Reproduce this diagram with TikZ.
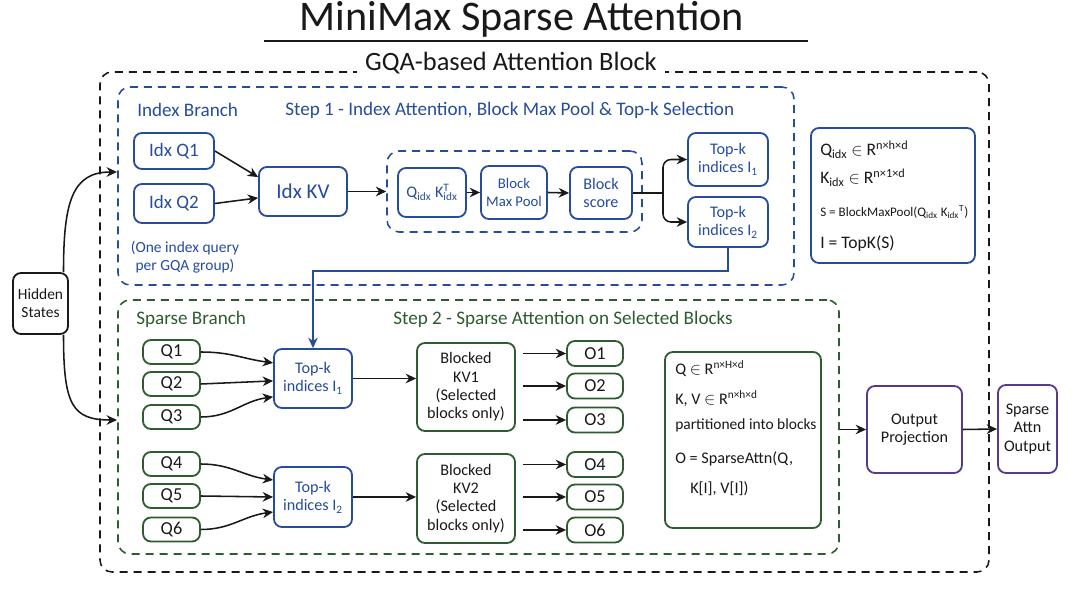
\documentclass[tikz,border=0pt]{standalone}
\usepackage{fontspec}
\setmainfont{Carlito}
\usetikzlibrary{arrows.meta}
\definecolor{idxblue}{RGB}{38,76,158}
\definecolor{spgreen}{RGB}{44,92,48}
\definecolor{outpurple}{RGB}{88,58,138}
\definecolor{ink}{RGB}{25,25,25}
\tikzset{
  sz/.style 2 args={minimum width=#1mm, minimum height=#2mm},
  box/.style={draw, rounded corners=2mm, line width=1.3pt, fill=white, align=center, inner sep=1pt, font=\fontsize{11.5}{13}\selectfont},
  bigtxt/.style={font=\fontsize{13.5}{15}\selectfont},
  bluebox/.style={box, draw=idxblue, text=idxblue},
  greenbox/.style={box, draw=spgreen, text=ink},
  purplebox/.style={box, draw=outpurple, text=ink},
  dashframe/.style={draw, dash pattern=on 2mm off 1.5mm, line width=1.1pt, rounded corners=3mm, inner sep=0pt},
  arr/.style={-{Stealth[length=2.6mm,width=2.4mm]}, line width=1.1pt, draw=ink},
  lbl/.style={anchor=west, inner sep=0pt, font=\fontsize{13.6}{15}\selectfont},
  ftxt/.style={anchor=west, inner sep=0pt, text=ink, font=\fontsize{12.5}{14}\selectfont},
}
\begin{document}
\begin{tikzpicture}[x=0.25mm, y=-0.25mm]
	\fill[white] (0,0) rectangle (1080,595);
	\useasboundingbox (0,0) rectangle (1080,595);
	% title
	\node[inner sep=0pt, text=ink, font=\fontsize{30}{32}\selectfont] (title) at (522,19) {MiniMax Sparse Attention};
	\draw[ink, line width=1.6pt] (264,41) -- (808,41);
	% frames
	\node[dashframe, draw=ink, sz={222.25}{125}] (outer) at (544.5,322) {};
	\node[fill=white, inner sep=6pt, text=ink, font=\fontsize{18.8}{20}\selectfont] (gqa) at (511,63) {GQA-based Attention Block};
	\node[dashframe, draw=idxblue, sz={169}{49.5}] (idxframe) at (456,186) {};
	\node[dashframe, draw=spgreen, sz={180.25}{63.5}] (sparse) at (478.5,427) {};
	\node[lbl, text=idxblue] (idxlbl) at (137,110) {Index Branch};
	\node[lbl, text=idxblue] (steplbla) at (285,110) {Step 1 - Index Attention, Block Max Pool \& Top-k Selection};
	\node[lbl, text=spgreen] (splbl) at (136,319) {Sparse Branch};
	\node[lbl, text=spgreen] (steplblb) at (393,319) {Step 2 - Sparse Attention on Selected Blocks};
	% index branch
	\node[bluebox, bigtxt, sz={20}{9}] (idxqa) at (174,151) {Idx Q1};
	\node[bluebox, bigtxt, sz={20}{9.75}] (idxqb) at (174,203.5) {Idx Q2};
	\node[align=center, inner sep=0pt, text=idxblue, font=\fontsize{11}{13}\selectfont] (note) at (185,257) {(One index query\\per GQA group)};
	\node[bluebox, sz={22}{12.25}, font=\fontsize{15}{17}\selectfont] (idxkv) at (303,191.5) {Idx KV};
	\node[dashframe, draw=idxblue, sz={63.75}{20.25}] (inner) at (514.5,191.5) {};
	\node[bluebox, sz={17}{12.25}] (qk) at (432,192.5) {Q\textsubscript{idx} K\rlap{\textsuperscript{T}}\textsubscript{idx}};
	\node[bluebox, sz={16.5}{13.25}, font=\fontsize{10.5}{12.5}\selectfont] (bmp) at (514,192.5) {Block\\Max Pool};
	\node[bluebox, sz={15.5}{13}] (bscore) at (601,193) {Block\\score};
	\node[bluebox, sz={20}{13.25}] (topa) at (728,159.5) {Top-k\\indices I\textsubscript{1}};
	\node[bluebox, sz={20}{12.5}] (topb) at (728,222) {Top-k\\indices I\textsubscript{2}};
	\coordinate (split) at (663,193);
	\draw[arr] (idxqa.east) -- ([yshift=3.6mm]idxkv.west);
	\draw[arr] (idxqb.east) -- ([yshift=-1.6mm]idxkv.west);
	\draw[arr] (idxkv.east) -- (inner.west);
	\draw[arr] (qk.east) -- (bmp.west);
	\draw[arr] (bmp.east) -- (bscore.west);
	\draw[ink, line width=1.1pt] (bscore.east) -- (split);
	\draw[arr, rounded corners=2mm] (split) |- (topa.west);
	\draw[arr, rounded corners=2mm] (split) |- (topb.west);
	% formulas (index)
	\node[box, draw=idxblue, sz={41}{33.75}] (fidx) at (893,195.5) {};
	\node[ftxt] (fq) at (820,150) {Q\textsubscript{idx} $\in$ R\textsuperscript{n×h×d}};
	\node[ftxt] (fk) at (820,178) {K\textsubscript{idx} $\in$ R\textsuperscript{n×1×d}};
	\node[ftxt, font=\fontsize{9.3}{11}\selectfont] (fs) at (820,212) {S = BlockMaxPool(Q\textsubscript{idx} K\textsubscript{idx}\textsuperscript{T})};
	\node[ftxt] (fi) at (820,243) {I = TopK(S)};
	% hidden states
	\node[box, draw=ink, text=ink, sz={13.75}{15.25}, font=\fontsize{11}{13}\selectfont] (hidden) at (40.5,303.5) {Hidden\\States};
	\coordinate (hidtop) at (117,172);
	\coordinate (hidbot) at (117,420);
	\draw[arr] ([xshift=5.75mm]hidden.north) .. controls +(0,-70) and +(-45,0) .. (hidtop);
	\draw[arr] ([xshift=5.75mm]hidden.south) .. controls +(0,70) and +(-45,0) .. (hidbot);
	% sparse branch
	\foreach \n/\y in {1/352,2/384,3/417,4/464,5/496,6/529.5}
		\node[greenbox, sz={14.25}{6}, font=\fontsize{13}{15}\selectfont] (q\n) at (171.5,\y) {Q\n};
	\node[bluebox, sz={19.5}{14.75}] (stopa) at (313,378.5) {Top-k\\indices I\textsubscript{1}};
	\node[bluebox, sz={19.5}{15}] (stopb) at (313,497) {Top-k\\indices I\textsubscript{2}};
	\node[greenbox, sz={24.5}{22}] (kva) at (466,387) {Blocked\\KV1\\(Selected\\blocks only)};
	\node[greenbox, sz={24.5}{22.25}] (kvb) at (466,498.5) {Blocked\\KV2\\(Selected\\blocks only)};
	\foreach \n/\y in {1/353.5,2/386,3/420,4/464.5,5/497,6/530}
		\node[greenbox, sz={14}{6.25}, font=\fontsize{13}{15}\selectfont] (o\n) at (595,\y) {O\n};
	\coordinate (route) at (313,271);
	\draw[arr, draw=idxblue] (topb.south) |- (route) -- (stopa.north);
	\draw[arr] (q1.east) .. controls +(30,0) and +(-30,-4) .. ([yshift=3.9mm]stopa.west);
	\draw[arr] (q2.east) -- ([yshift=-0.6mm]stopa.west);
	\draw[arr] (q3.east) .. controls +(30,0) and +(-30,4) .. ([yshift=-4.6mm]stopa.west);
	\draw[arr] (q4.east) .. controls +(30,0) and +(-30,-4) .. ([yshift=4.25mm]stopb.west);
	\draw[arr] (q5.east) -- (stopb.west);
	\draw[arr] (q6.east) .. controls +(30,0) and +(-30,4) .. ([yshift=-3.75mm]stopb.west);
	\draw[arr] (stopa.east) -- (stopa.east -| kva.west);
	\draw[arr] (stopb.east) -- (stopb.east -| kvb.west);
	\foreach \o in {o1,o2,o3}
		\draw[arr, shorten <=1.75mm] (kva.east |- \o.west) -- (\o.west);
	\foreach \o in {o4,o5,o6}
		\draw[arr, shorten <=1.75mm] (kvb.east |- \o.west) -- (\o.west);
	% formulas (sparse)
	\node[box, draw=spgreen, sz={39}{44}] (fsp) at (743,440) {};
	\node[ftxt, font=\fontsize{11.5}{13}\selectfont] (fsq) at (675,369) {Q $\in$ R\textsuperscript{n×H×d}};
	\node[ftxt, font=\fontsize{11.5}{13}\selectfont] (fskv) at (675,399) {K, V $\in$ R\textsuperscript{n×h×d}};
	\node[ftxt, font=\fontsize{11}{13}\selectfont] (fspart) at (675,425) {partitioned into blocks};
	\node[ftxt, font=\fontsize{11.5}{13}\selectfont] (fso) at (675,459) {O = SparseAttn(Q,};
	\node[ftxt, font=\fontsize{11.5}{13}\selectfont] (fsi) at (690,489) {K[I], V[I])};
	% output
	\node[purplebox, sz={23.75}{21.75}] (outproj) at (914.5,429.5) {Output\\Projection};
	\node[purplebox, sz={14.75}{22}] (sao) at (1027.5,429) {Sparse\\Attn\\Output};
	\draw[arr] (sparse.east |- outproj.west) -- (outproj.west);
	\draw[arr] (outproj.east) -- (sao.west);
\end{tikzpicture}
\end{document}
